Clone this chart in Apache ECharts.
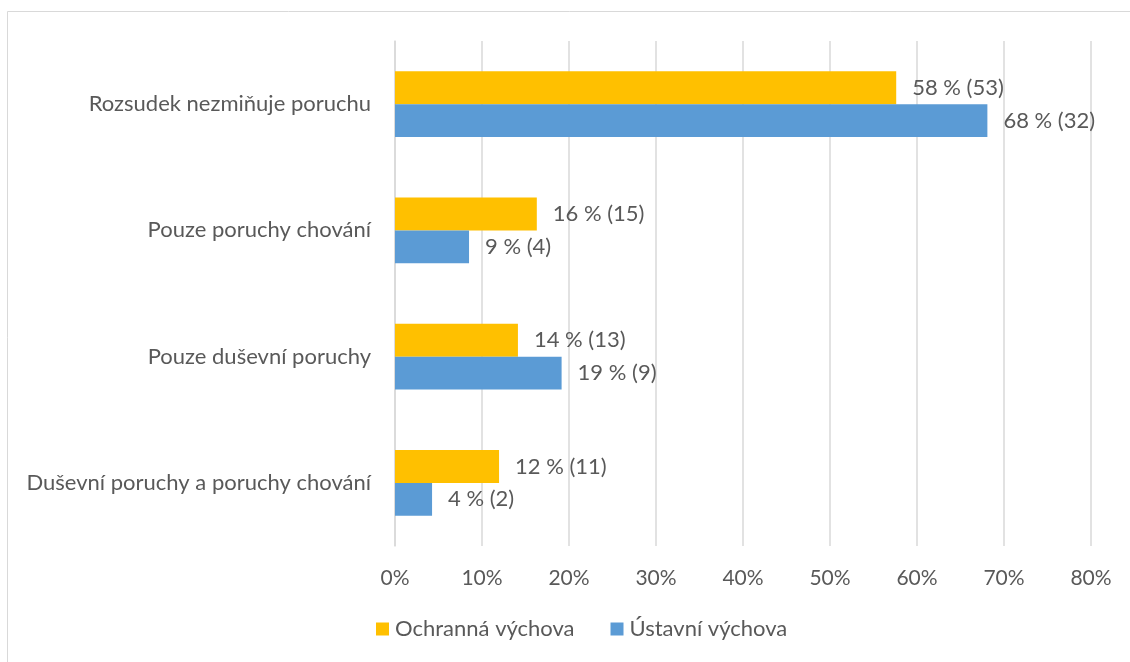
<!DOCTYPE html>
<html>
<head>
<meta charset="utf-8">
<script src="https://cdn.jsdelivr.net/npm/echarts@6/dist/echarts.min.js"></script>
<style>html,body{margin:0;padding:0;background:#fff}#c{width:1130px;height:662px}</style>
</head>
<body>
<div id="c"></div>
<script>
const categories = ['Duševní poruchy a poruchy chování', 'Pouze duševní poruchy', 'Pouze poruchy chování', 'Rozsudek nezmiňuje poruchu'];
const seriesNames = ['Ochranná výchova', 'Ústavní výchova'];
const ochrannaValues = [11.96, 14.13, 16.30, 57.61];
const ustavniValues = [4.26, 19.15, 8.51, 68.09];
const ochrannaLabels = ['12 % (11)', '14 % (13)', '16 % (15)', '58 % (53)'];
const ustavniLabels = ['4 % (2)', '19 % (9)', '9 % (4)', '68 % (32)'];
const xTicks = [0, 10, 20, 30, 40, 50, 60, 70, 80];

const FONT = 'Lato, "Open Sans", sans-serif';
const FS = 22;
const TXT = '#595959';
const chart = echarts.init(document.getElementById('c'), null, {renderer: 'canvas'});

function mkSeries(name, values, labels, color) {
  return {
    name: name,
    type: 'bar',
    data: values,
    itemStyle: {color: color},
    barGap: '0%',
    barCategoryGap: '48%',
    label: {
      show: true,
      position: 'right',
      distance: 16,
      color: TXT,
      fontFamily: FONT,
      fontSize: FS,
      formatter: p => labels[p.dataIndex]
    }
  };
}

chart.setOption({
  animation: false,
  backgroundColor: '#fff',
  textStyle: {fontFamily: FONT},
  graphic: [{
    type: 'rect',
    shape: {x: 7.5, y: 11.5, width: 1200, height: 800},
    style: {fill: 'none', stroke: '#D9D9D9', lineWidth: 1},
    silent: true, z: -1
  }],
  legend: {
    bottom: 17,
    left: 371,
    itemWidth: 13,
    itemHeight: 13,
    itemGap: 36,
    icon: 'rect',
    textStyle: {color: TXT, fontFamily: FONT, fontSize: FS, padding: [0, 0, 0, 1]},
    data: seriesNames
  },
  grid: {left: 395, right: 39, top: 41, bottom: 116, containLabel: false},
  xAxis: {
    type: 'value',
    min: xTicks[0],
    max: xTicks[xTicks.length - 1],
    interval: 10,
    axisLine: {show: false},
    axisTick: {show: false},
    splitLine: {show: true, lineStyle: {color: '#D9D9D9', width: 1.5}},
    axisLabel: {color: TXT, fontFamily: FONT, fontSize: 21, margin: 22, formatter: v => v + '%'}
  },
  yAxis: {
    type: 'category',
    data: categories,
    axisLine: {show: true, lineStyle: {color: '#D9D9D9', width: 1.5}},
    axisTick: {show: false},
    axisLabel: {color: TXT, fontFamily: FONT, fontSize: FS, margin: 24}
  },
  series: [
    mkSeries(seriesNames[0], ochrannaValues, ochrannaLabels, '#FFC000'),
    mkSeries(seriesNames[1], ustavniValues, ustavniLabels, '#5B9BD5')
  ]
});
</script>
</body>
</html>
